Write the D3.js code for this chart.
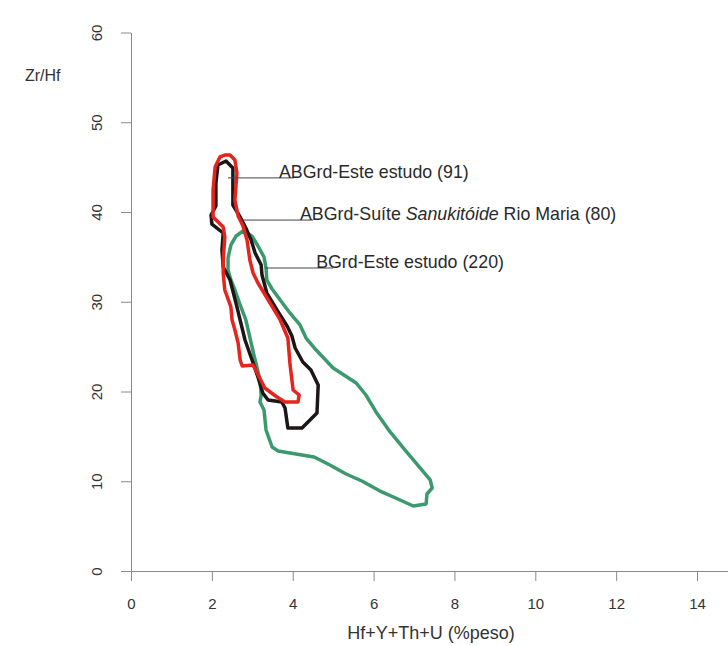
<!DOCTYPE html>
<html>
<head>
<meta charset="utf-8">
<script src="https://cdn.jsdelivr.net/npm/d3@7"></script>
<style>
  body { margin: 0; background: #fff; }
  svg { display: block; font-family: "Liberation Sans", Arial, sans-serif; }
  .axis path, .axis line { stroke: #8a8a8a; stroke-width: 1; }
  .axis text { fill: #333; font-size: 15px; }
</style>
</head>
<body>
<div id="chartDiv"></div>
<script>
// Zr/Hf vs Hf+Y+Th+U diagram - field outlines

var xTicks = [0, 2, 4, 6, 8, 10, 12, 14];
var yTicks = [0, 10, 20, 30, 40, 50, 60];

// ABGrd - Este estudo (91)
var abgrdEste = [
  [2.35, 45.68], [2.52, 44.90], [2.52, 43.01], [2.52, 40.78], [2.70, 39.44],
  [2.84, 38.22], [2.97, 36.88], [3.07, 35.43], [3.22, 34.09], [3.24, 32.98],
  [3.36, 30.97], [3.61, 29.08], [3.86, 27.30], [3.98, 26.18], [4.06, 24.85],
  [4.25, 23.29], [4.45, 22.40], [4.63, 20.72], [4.60, 17.60], [4.23, 15.93],
  [3.88, 15.93], [3.81, 18.16], [3.73, 18.83], [3.39, 19.05], [3.26, 19.83],
  [3.14, 21.62], [3.02, 23.18], [2.82, 25.74], [2.62, 29.42], [2.45, 32.42],
  [2.28, 33.87], [2.25, 35.77], [2.28, 37.66], [2.00, 38.66], [1.98, 39.67],
  [2.10, 40.67], [2.10, 43.23], [2.15, 45.24]
];

// ABGrd - Suite Sanukitoide Rio Maria (80)
var abgrdRioMaria = [
  [2.32, 46.35], [2.45, 46.35], [2.57, 45.79], [2.62, 44.35], [2.57, 41.34],
  [2.65, 39.55], [2.77, 38.44], [2.87, 36.88], [2.94, 34.65], [3.02, 33.20],
  [3.14, 32.09], [3.44, 29.86], [3.69, 27.97], [3.88, 25.96], [3.93, 23.18],
  [3.98, 21.28], [4.01, 20.17], [4.16, 19.61], [4.13, 18.83], [3.81, 18.83],
  [3.61, 19.39], [3.31, 20.39], [3.02, 22.95], [2.75, 22.84], [2.70, 23.51],
  [2.65, 25.40], [2.57, 26.85], [2.50, 27.97], [2.47, 29.42], [2.32, 31.31],
  [2.28, 33.20], [2.28, 34.65], [2.32, 37.21], [2.28, 38.33], [2.03, 39.44],
  [2.03, 42.45], [2.08, 45.01], [2.20, 46.13]
];

// BGrd - Este estudo (220)
var bgrdEste = [
  [2.77, 37.88], [2.99, 37.33], [3.14, 36.21], [3.29, 34.99], [3.34, 33.76],
  [3.36, 32.42], [3.49, 31.42], [3.69, 30.19], [3.93, 28.75], [4.18, 27.41],
  [4.33, 25.96], [4.58, 24.62], [5.00, 22.62], [5.57, 20.95], [5.81, 19.61],
  [6.06, 17.72], [6.41, 15.49], [6.78, 13.48], [7.15, 11.48], [7.40, 10.14],
  [7.45, 9.25], [7.32, 8.58], [7.30, 7.47], [6.98, 7.24], [6.60, 8.02],
  [6.16, 8.91], [5.71, 10.03], [5.32, 10.81], [4.92, 11.81], [4.53, 12.70],
  [4.08, 13.04], [3.64, 13.37], [3.49, 13.82], [3.34, 15.71], [3.29, 17.94],
  [3.19, 18.83], [3.22, 19.61], [3.19, 21.28], [3.04, 24.07], [2.84, 27.97],
  [2.70, 29.64], [2.57, 31.31], [2.47, 32.42], [2.40, 33.54], [2.40, 34.87],
  [2.47, 36.32], [2.60, 37.33]
];

var seriesNames = ['ABGrd-Este estudo (91)', 'ABGrd-Suíte Sanukitóide Rio Maria (80)', 'BGrd-Este estudo (220)'];
// leader lines: start x, end x, y (data units)
var leaderStartX = [2.40, 2.70, 3.31];
var leaderEndX = [4.03, 4.50, 5.00];
var leaderY = [43.8, 39.1, 33.76];
var labelX = [3.66, 4.18, 4.58];

var svgWidth = 728;
var svgHeight = 646;

var svg = d3.select('#chartDiv')
            .append('svg')
            .attr('width', svgWidth)
            .attr('height', svgHeight);

var xScale = d3.scaleLinear().domain([0, 15]).range([131, 131 + 15 * 40.43]);
var yScale = d3.scaleLinear().domain([0, 60]).range([571, 32.5]);

// x axis
var xAxis = svg.append('g')
   .attr('class', 'axis')
   .attr('transform', 'translate(0,571)')
   .call(d3.axisBottom(xScale).tickValues(xTicks).tickSize(10).tickSizeOuter(0).tickPadding(17));

// y axis
var yAxis = svg.append('g')
   .attr('class', 'axis')
   .attr('transform', 'translate(131,0)')
   .call(d3.axisLeft(yScale).tickValues(yTicks).tickSize(10).tickSizeOuter(0));

// rotate y tick labels
yAxis.selectAll('.tick text')
     .attr('x', 0)
     .attr('dy', 0)
     .attr('text-anchor', 'middle')
     .attr('transform', 'translate(-33,0) rotate(-90)')
     .attr('dominant-baseline', 'middle');

// axis titles
svg.append('text')
   .attr('x', 431)
   .attr('y', 639)
   .attr('text-anchor', 'middle')
   .attr('font-size', '18px')
   .attr('fill', '#333')
   .text('Hf+Y+Th+U (%peso)');

svg.append('text')
   .attr('x', 25)
   .attr('y', 81)
   .attr('font-size', '16px')
   .attr('fill', '#333')
   .text('Zr/Hf');

// field outlines
var line = d3.line()
             .x(function(d) { return xScale(d[0]); })
             .y(function(d) { return yScale(d[1]); })
             .curve(d3.curveLinearClosed);

var fields = [bgrdEste, abgrdEste, abgrdRioMaria];
var colors = ['#3a9a6e', '#1c1616', '#e5251d'];

svg.selectAll('.field')
   .data(fields)
   .enter()
   .append('path')
   .attr('class', 'field')
   .attr('d', line)
   .attr('fill', 'none')
   .attr('stroke', function(d, i) { return colors[i]; })
   .attr('stroke-width', 3.5)
   .attr('stroke-linejoin', 'round');

// leader lines and labels
svg.selectAll('.leader')
   .data(seriesNames)
   .enter()
   .append('line')
   .attr('class', 'leader')
   .attr('x1', function(d, i) { return xScale(leaderStartX[i]); })
   .attr('x2', function(d, i) { return xScale(leaderEndX[i]); })
   .attr('y1', function(d, i) { return yScale(leaderY[i]); })
   .attr('y2', function(d, i) { return yScale(leaderY[i]); })
   .attr('stroke', '#444')
   .attr('stroke-width', 1);

var labels = svg.selectAll('.label')
   .data(seriesNames)
   .enter()
   .append('text')
   .attr('class', 'label')
   .attr('x', function(d, i) { return xScale(labelX[i]); })
   .attr('y', function(d, i) { return yScale(leaderY[i]); })
   .attr('font-size', '17.8px')
   .attr('fill', '#2a2a2a');

labels.each(function(d) {
    var t = d3.select(this);
    // italic word in the Rio Maria label
    var m = d.match(/^(.*Suíte )(Sanukitóide)( .*)$/);
    if (m) {
        t.append('tspan').text(m[1]);
        t.append('tspan').attr('font-style', 'italic').text(m[2]);
        t.append('tspan').text(m[3]);
    } else {
        t.text(d);
    }
});
</script>
</body>
</html>
